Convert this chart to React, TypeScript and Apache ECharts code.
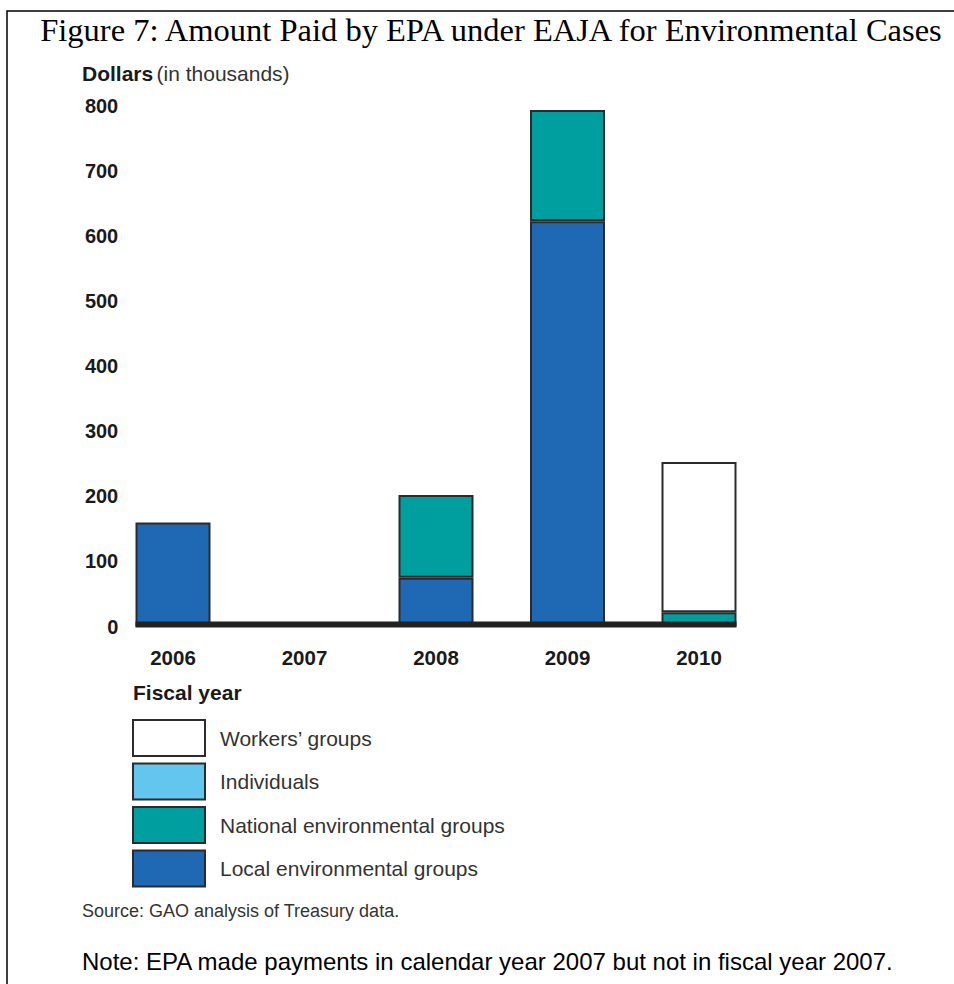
import React, { useEffect, useRef } from "react";
import * as echarts from "echarts";

const years = ["2006", "2007", "2008", "2009", "2010"];
const localGroups = [160, 0, 75, 623, 0];
const nationalGroups = [0, 0, 127, 171, 22];
const individuals = [0, 0, 0, 0, 0];
const workersGroups = [0, 0, 0, 0, 231];
const seriesNames = [
  "Local environmental groups",
  "National environmental groups",
  "Individuals",
  "Workers\u2019 groups",
];
const legendOrder = [
  "Workers\u2019 groups",
  "Individuals",
  "National environmental groups",
  "Local environmental groups",
];
const yMin = 0;
const yMax = 800;
const yStep = 100;

const titleText = "Figure 7: Amount Paid by EPA under EAJA for Environmental Cases";
const sourceText = "Source: GAO analysis of Treasury data.";
const noteText = "Note: EPA made payments in calendar year 2007 but not in fiscal year 2007.";

const SANS = "'Liberation Sans', Arial, sans-serif";
const SERIF = "'Liberation Serif', 'Times New Roman', serif";
const EDGE = "#2b2b2b";
const BAR_W = 75;

export default function App() {
  const ref = useRef<HTMLDivElement>(null);
  useEffect(() => {
    document.body.style.margin = "0";
    const chart = echarts.init(ref.current!, null, { renderer: "svg" });
    const nz = (a: number[]) => a.map((v) => (v === 0 ? null : v));
    const colors = ["#1f68b3", "#009f9f", "#63c6ef", "#ffffff"];
    const datasets = [localGroups, nationalGroups, individuals, workersGroups];
    const barSeries = datasets.map((d, i) => ({
      name: seriesNames[i],
      type: "bar",
      stack: "total",
      barWidth: BAR_W,
      data: nz(d),
      itemStyle: { color: colors[i], borderColor: EDGE, borderWidth: 2 },
      emphasis: { disabled: true },
    }));
    chart.setOption({
      animation: false,
      grid: { left: 107.25, right: 189.25, top: 106, bottom: 357.5, containLabel: false },
      xAxis: {
        type: "category",
        data: years,
        axisLine: { show: false },
        axisTick: { show: false },
        axisLabel: {
          margin: 20,
          fontSize: 20.5,
          fontWeight: "bold",
          color: "#1a1a1a",
          fontFamily: SANS,
        },
      },
      yAxis: {
        type: "value",
        min: yMin,
        max: yMax,
        interval: yStep,
        offset: -11,
        axisLine: { show: false },
        axisTick: { show: false },
        splitLine: { show: false },
        axisLabel: {
          margin: 0,
          fontSize: 20,
          fontWeight: "bold",
          color: "#1a1a1a",
          fontFamily: SANS,
        },
      },
      legend: {
        orient: "vertical",
        left: 127,
        top: 714,
        itemWidth: 72,
        itemHeight: 36,
        itemGap: 5.5,
        icon: "rect",
        selectedMode: false,
        data: legendOrder,
        itemStyle: { borderColor: EDGE, borderWidth: 2 },
        textStyle: { fontSize: 21, color: "#333", fontFamily: SANS, padding: [0, 0, 0, 10] },
      },
      series: [
        ...barSeries,
        {
          type: "custom",
          silent: true,
          z: 5,
          data: [[0, 0]],
          encode: { x: 0, y: 1 },
          renderItem: (_params: any, api: any) => {
            const p0 = api.coord([0, 0]);
            const p1 = api.coord([years.length - 1, 0]);
            return {
              type: "rect",
              shape: {
                x: p0[0] - BAR_W / 2,
                y: p0[1] - 5,
                width: p1[0] - p0[0] + BAR_W,
                height: 6,
              },
              style: { fill: "#222222" },
            };
          },
        },
      ],
      graphic: [
        {
          type: "polyline",
          shape: { points: [[7, 984], [7, 11], [954, 11]] },
          style: { stroke: "#000", lineWidth: 1.5, fill: null },
        },
        {
          type: "text",
          x: 491,
          y: 30,
          style: {
            text: titleText,
            fontSize: 32.5,
            fontFamily: SERIF,
            fill: "#000",
            align: "center",
            verticalAlign: "middle",
          },
        },
        {
          type: "text",
          x: 82,
          y: 73,
          style: {
            text: "{b|Dollars} {n|(in thousands)}",
            verticalAlign: "middle",
            rich: {
              b: { fontSize: 21, fontWeight: "bold", fontFamily: SANS, fill: "#1a1a1a" },
              n: { fontSize: 21, fontFamily: SANS, fill: "#333" },
            },
          },
        },
        {
          type: "text",
          x: 133,
          y: 692,
          style: {
            text: "Fiscal year",
            fontSize: 21,
            fontWeight: "bold",
            fontFamily: SANS,
            fill: "#1a1a1a",
            verticalAlign: "middle",
          },
        },
        {
          type: "text",
          x: 82,
          y: 911,
          style: {
            text: sourceText,
            fontSize: 18,
            fontFamily: SANS,
            fill: "#333",
            verticalAlign: "middle",
          },
        },
        {
          type: "text",
          x: 82,
          y: 961,
          style: {
            text: noteText,
            fontSize: 24,
            fontFamily: SANS,
            fill: "#000",
            verticalAlign: "middle",
          },
        },
      ],
    });
    return () => chart.dispose();
  }, []);
  return (
    <div
      ref={ref}
      style={{ position: "absolute", left: 0, top: 0, width: 954, height: 984, background: "#fff" }}
    />
  );
}
